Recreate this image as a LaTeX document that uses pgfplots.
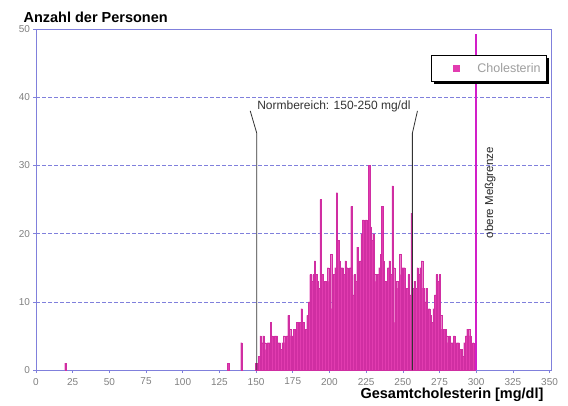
\documentclass[border=0pt]{standalone}
\usepackage{fontspec}
\setmainfont{Liberation Sans}
\usepackage{pgfplots}
\usepackage{pgfplotstable}
\pgfplotsset{compat=1.18}
\usetikzlibrary{shadows}
\definecolor{framecol}{HTML}{8080DC}
\definecolor{barfill}{HTML}{E23CB0}
\definecolor{baredge}{HTML}{D02EA2}
\definecolor{limitcol}{HTML}{D21EC8}
\definecolor{ticktext}{HTML}{808080}

\pgfplotstableread{
x y
20 1
131 1
140 4
150 1
151 1
152 2
153 5
154 4
155 5
156 4
157 3
158 4
159 4
160 7
161 5
162 3
163 5
164 5
165 4
166 4
167 3
168 4
169 5
170 4
171 5
172 8
173 6
174 5
175 5
176 6
177 4
178 7
179 6
180 7
181 9
182 7
183 5
184 6
185 8
186 10
187 14
188 13
189 14
190 16
191 14
192 13
193 12
194 25
195 14
196 12
197 13
198 10
199 15
200 13
201 17
202 9
203 14
204 15
205 26
206 19
207 16
208 15
209 15
210 14
211 16
212 15
213 12
214 15
215 24
216 11
217 14
218 13
219 18
220 15
221 16
222 20
223 22
224 21
225 22
226 18
227 30
228 21
229 19
230 20
231 14
232 13
233 14
234 15
235 17
236 24
237 16
238 13
239 12
240 15
241 16
242 14
243 27
244 15
245 7
246 13
247 12
248 17
249 14
250 15
251 15
252 9
253 12
254 14
255 11
256 23
257 12
258 13
259 12
260 15
261 14
262 15
263 16
264 12
265 10
266 12
267 7
268 9
269 8
270 7
271 9
272 11
273 14
274 13
275 14
276 8
277 6
278 6
279 6
280 5
281 4
282 5
283 4
284 4
285 5
286 3
287 4
288 4
289 3
290 3
291 2
292 4
293 5
294 6
295 6
296 5
297 3
298 4
299 2
}\chol

\begin{document}
\begin{tikzpicture}
\path[use as bounding box] (0,0) rectangle (568pt,405pt);
\begin{axis}[
  at={(36pt,35pt)}, anchor=south west,
  scale only axis, width=515pt, height=341pt,
  xmin=0, xmax=351, ymin=0, ymax=50,
  xtick={0,25,...,350}, ytick={0,10,...,50},
  axis line style={framecol, line width=0.8pt},
  tick style={framecol, line width=0.6pt},
  tick align=outside, major tick length=2.5pt, tick pos=left,
  ymajorgrids, grid style={framecol, dashed, line width=0.6pt, dash pattern=on 4pt off 2pt},
  /pgf/number format/assume math mode=true,
  ticklabel style={font=\fontsize{10}{12}\selectfont, text=ticktext},
  xticklabel style={yshift=-2pt},
  axis background/.style={fill=white},
  legend style={at={(axis description cs:0.992,0.924)}, anchor=north east,
    draw=black, line width=0.6pt, fill=white, inner xsep=4pt, inner ysep=6pt,
    font=\fontsize{12.5}{14}\selectfont, text=black!38,
    drop shadow={shadow xshift=2.5pt, shadow yshift=-2.5pt, fill=black, opacity=1}},
  legend cell align=left,
]
\addplot[ybar, bar width=1, bar shift=0, fill=barfill, draw=baredge, line width=0.1pt,
  legend image code/.code={%
    \pgfpathrectangle{\pgfpoint{0pt}{-4pt}}{\pgfpoint{40pt}{8pt}}\pgfusepath{discard}%
    \pgfsetfillcolor{barfill}%
    \pgfpathrectangle{\pgfpoint{17.5pt}{-3.5pt}}{\pgfpoint{7pt}{7pt}}\pgfusepath{fill}}]
  table[x=x, y=y] {\chol};
\addlegendentry{Cholesterin}
% normal range markers
\addplot[forget plot, black!80, line width=0.8pt] coordinates {(150.5,0) (150.5,34.7) (146,38)};
\addplot[forget plot, black!80, line width=0.8pt] coordinates {(256.5,0) (256.5,34.7) (260,38)};
\node[font=\fontsize{12}{14}\selectfont, text=black!80] at (axis cs:203,38.7) {Normbereich: 150-250 mg/dl};
% upper measurement limit
\addplot[forget plot, limitcol, line width=2pt] coordinates {(300,0) (300,49.2)};
\node[rotate=90, font=\fontsize{11.5}{13}\selectfont, text=black!85] at (axis cs:309.5,26) {obere Meßgrenze};
\end{axis}
\node[anchor=base west, font=\bfseries\fontsize{14.5}{16}\selectfont] at (20pt,382pt) {Anzahl der Personen};
\node[anchor=base east, font=\bfseries\fontsize{14.5}{16}\selectfont] at (547pt,7pt) {Gesamtcholesterin [mg/dl]};
\end{tikzpicture}
\end{document}
